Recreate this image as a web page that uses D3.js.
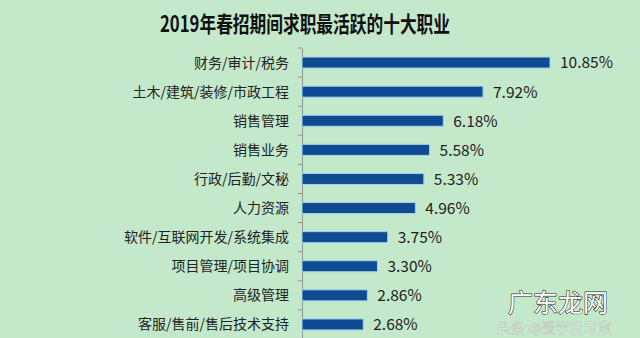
<!DOCTYPE html>
<html><head><meta charset="utf-8">
<script src="https://cdn.jsdelivr.net/npm/d3@7"></script>
<style>body{margin:0;background:#c4e9ca;}svg{display:block;}</style>
</head><body>
<script>
const categories = ["财务/审计/税务","土木/建筑/装修/市政工程","销售管理","销售业务","行政/后勤/文秘","人力资源","软件/互联网开发/系统集成","项目管理/项目协调","高级管理","客服/售前/售后技术支持"];
const values = [10.85, 7.92, 6.18, 5.58, 5.33, 4.96, 3.75, 3.30, 2.86, 2.68];
const valueLabels = ["10.85%","7.92%","6.18%","5.58%","5.33%","4.96%","3.75%","3.30%","2.86%","2.68%"];
const title = "2019年春招期间求职最活跃的十大职业";

const W = 640, H = 338;
const svg = d3.select("body").append("svg").attr("width", W).attr("height", H);
svg.append("rect").attr("width", W).attr("height", H).attr("fill", "#c4e9ca");

const font = "'Noto Sans CJK SC', 'Noto Sans', sans-serif";
svg.append("text").attr("x", 305).attr("y", 32).attr("text-anchor", "middle")
  .attr("font-family", font).attr("font-weight", "bold").attr("font-size", 22)
  .attr("fill", "#111").attr("textLength", 290).attr("lengthAdjust", "spacingAndGlyphs")
  .text(title);

const x = d3.scaleLinear().domain([0, 10.85]).range([302, 550]);
const y = d3.scaleBand().domain(categories).range([48, 339]).paddingInner(0.6).paddingOuter(0.3);

const yAxis = d3.axisLeft(y).tickSize(0).tickFormat("");
const ax = svg.append("g").attr("transform", "translate(302,0)").call(yAxis);
ax.select(".domain").attr("stroke", "#8a9a8c").attr("stroke-width", 1);
const step = y.step();
const bounds = d3.range(categories.length + 1).map(i => 48 + i * step);
svg.append("g").selectAll("line").data(bounds).join("line")
  .attr("x1", 298).attr("x2", 302).attr("y1", d => d).attr("y2", d => d)
  .attr("stroke", "#8a9a8c");

svg.append("g").selectAll("rect").data(values).join("rect")
  .attr("x", x(0)).attr("y", (d, i) => y(categories[i]) + y.bandwidth()/2 - 5.5)
  .attr("width", d => x(d) - x(0)).attr("height", 11)
  .attr("fill", "#0f4a93").attr("stroke", "#9fd3ee").attr("stroke-width", 1);

svg.append("g").selectAll("text").data(categories).join("text")
  .attr("x", 289).attr("y", d => y(d) + y.bandwidth()/2).attr("dy", "0.36em")
  .attr("text-anchor", "end").attr("font-family", font).attr("font-size", 14)
  .attr("fill", "#222").text(d => d);

svg.append("g").selectAll("text").data(values).join("text")
  .attr("x", d => x(d) + 10).attr("y", (d, i) => y(categories[i]) + y.bandwidth()/2).attr("dy", "0.38em")
  .attr("font-family", font).attr("font-size", 15.5).attr("fill", "#222")
  .text((d, i) => valueLabels[i]);

// watermarks
svg.append("text").attr("x", 508).attr("y", 312).attr("font-family", font).attr("font-size", 25)
  .attr("fill", "#ffffff").attr("stroke", "#333").attr("stroke-width", 1.2).attr("paint-order", "stroke")
  .text("广东龙网");
svg.append("text").attr("x", 497).attr("y", 333).attr("font-family", font).attr("font-size", 14)
  .attr("fill", "#ffffff").attr("fill-opacity", 0.8).attr("stroke", "#555").attr("stroke-opacity", 0.3).attr("stroke-width", 0.6)
  .text("头条 @爱学自习室");
</script>
</body></html>
